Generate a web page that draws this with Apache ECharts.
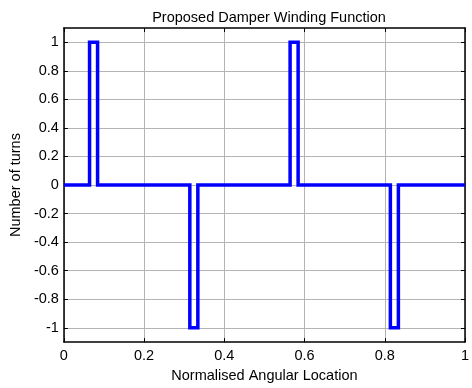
<!DOCTYPE html>
<html>
<head>
<meta charset="utf-8">
<title>Proposed Damper Winding Function</title>
<script src="https://cdn.jsdelivr.net/npm/echarts@6/dist/echarts.min.js"></script>
<style>
html, body { margin: 0; padding: 0; background: #fff; }
#main { width: 472px; height: 388px; }
</style>
</head>
<body>
<div id="main"></div>
<script type="text/javascript">
// winding function (step corners)
var location_x = [0, 0.064, 0.064, 0.084, 0.084, 0.314, 0.314, 0.334, 0.334,
                  0.564, 0.564, 0.584, 0.584, 0.814, 0.814, 0.834, 0.834, 1];
var turns_y    = [0, 0, 1, 1, 0, 0, -1, -1, 0,
                  0, 1, 1, 0, 0, -1, -1, 0, 0];
var yTicks = [-1, -0.8, -0.6, -0.4, -0.2, 0, 0.2, 0.4, 0.6, 0.8, 1];

var pts = [];
for (var i = 0; i < location_x.length; i++) {
    pts.push([location_x[i], turns_y[i]]);
}

var font = 'Liberation Sans, Arial, sans-serif';
var fs = 14.5;
var gridLine = { show: true, lineStyle: { color: '#b4b4b4', width: 1 } };
var boxLine = { show: true, onZero: false, lineStyle: { color: '#000', width: 1.5 } };

var myChart = echarts.init(document.getElementById('main'));
var option = {
    animation: false,
    backgroundColor: '#fff',
    title: {
        text: 'Proposed Damper Winding Function',
        left: 264, top: 5, textAlign: 'center',
        textStyle: { fontFamily: font, fontSize: fs, fontWeight: 'normal', color: '#000' }
    },
    grid: { left: 63, right: 6, top: 28, bottom: 42 },
    xAxis: [{
        type: 'value', min: 0, max: 1, interval: 0.2,
        name: 'Normalised Angular Location', nameLocation: 'middle', nameGap: 22,
        nameTextStyle: { fontFamily: font, fontSize: fs, color: '#000' },
        axisLine: boxLine,
        axisTick: { show: true, inside: true, length: 4, lineStyle: { color: '#000' } },
        axisLabel: { fontFamily: font, fontSize: fs, color: '#000', margin: 6 },
        splitLine: gridLine
    }, {
        type: 'value', min: 0, max: 1, interval: 0.2, position: 'top',
        axisLine: boxLine,
        axisTick: { show: true, inside: true, length: 4, lineStyle: { color: '#000' } },
        axisLabel: { show: false },
        splitLine: { show: false }
    }],
    yAxis: [{
        type: 'value', min: -1.1, max: 1.1,
        name: 'Number of turns', nameLocation: 'middle', nameGap: 35,
        nameTextStyle: { fontFamily: font, fontSize: fs, color: '#000' },
        axisLine: boxLine,
        axisTick: { show: true, inside: true, length: 4, customValues: yTicks, lineStyle: { color: '#000' } },
        axisLabel: { fontFamily: font, fontSize: fs, color: '#000', margin: 5, customValues: yTicks },
        splitLine: gridLine
    }, {
        type: 'value', min: -1.1, max: 1.1, position: 'right',
        axisLine: boxLine,
        axisTick: { show: true, inside: true, length: 4, customValues: yTicks, lineStyle: { color: '#000' } },
        axisLabel: { show: false, customValues: yTicks },
        splitLine: { show: false }
    }],
    series: [{
        type: 'line',
        data: pts,
        showSymbol: false,
        lineStyle: { color: '#0000ff', width: 3.5, join: 'miter' },
        itemStyle: { color: '#0000ff' },
        z: 5
    }]
};
myChart.setOption(option);
</script>
</body>
</html>
